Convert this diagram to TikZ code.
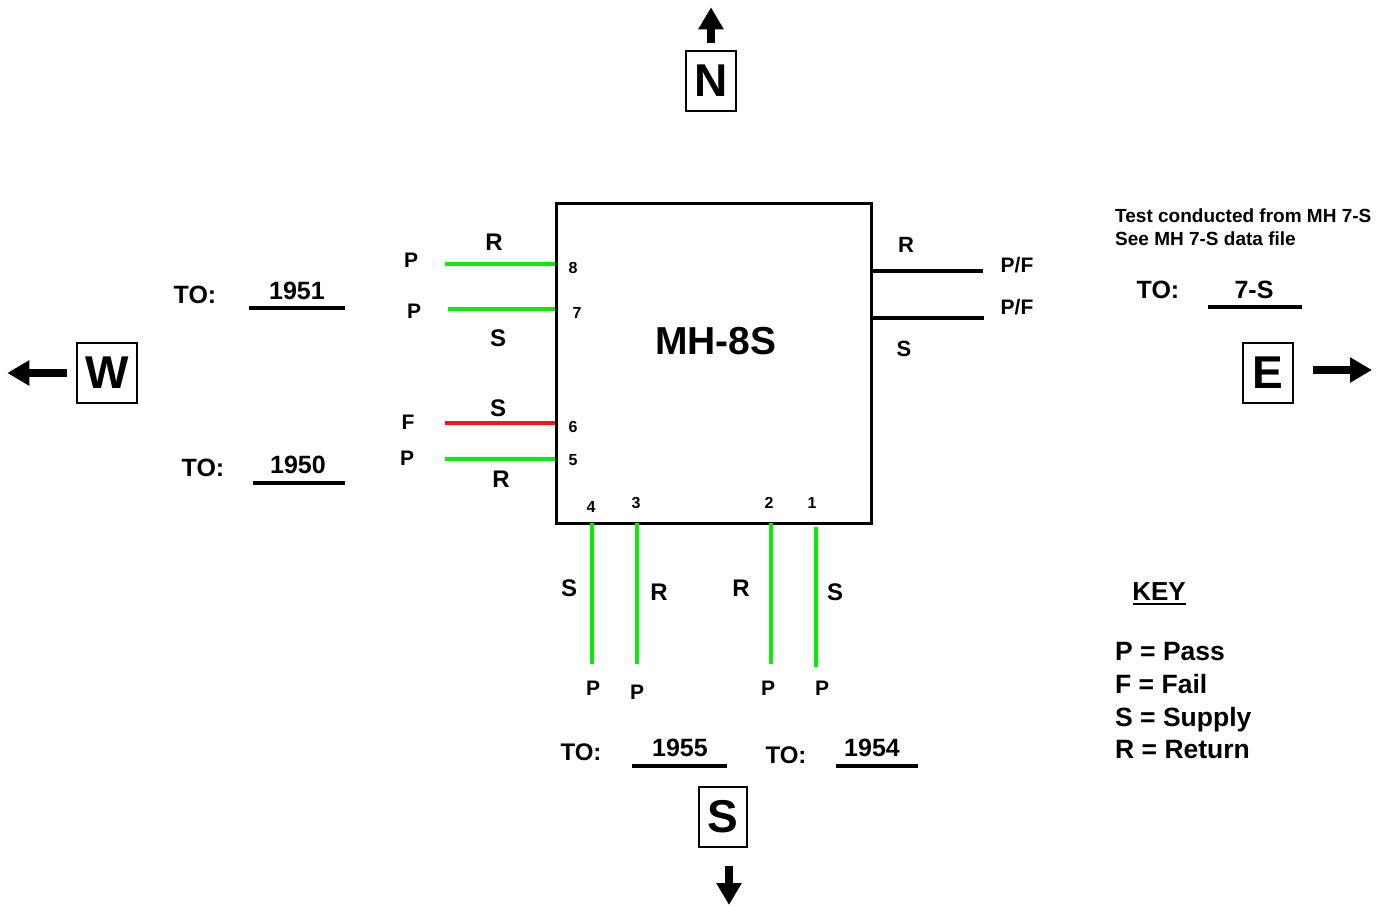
\documentclass[tikz,border=0pt]{standalone}
\usepackage{fontspec}
\setmainfont{Liberation Sans}
\usetikzlibrary{arrows.meta}
\definecolor{passgreen}{RGB}{10,235,10}
\definecolor{failred}{RGB}{250,20,20}

\tikzset{
  fs/.style={font=\bfseries\fontsize{#1}{#1}\selectfont, inner sep=0pt},
  compass/.style={draw, line width=1.4pt, fs=46, minimum width=50pt, minimum height=60pt},
  pass/.style={draw=passgreen, line width=4.5pt},
  fail/.style={draw=failred, line width=4.5pt},
  stub/.style={draw=black, line width=4pt},
  uline/.style={line width=3.5pt},
  heading/.style={line width=8pt, -{Triangle[length=22pt,width=24pt]}}
}

\begin{document}
\begin{tikzpicture}[x=1pt,y=-1pt]
			\useasboundingbox (0,0) rectangle (1382,907);
			% manhole
			\node[draw, line width=3pt, minimum width=315pt, minimum height=320pt] (mh) at (713.5,363) {};
			\node[fs=39] (title) at (716,341) {MH-8S};
			% west pipes
			\foreach \n/\y/\s/\l in {8/264/pass/110,7/309/pass/107,6/423/fail/110,5/459/pass/110} {
				\coordinate (w\n) at (mh.west |- 0,\y);
				\draw[\s] (w\n) -- ++(-\l,0);
			}
			\node[fs=16] (n8) at (573,268) {8};
			\node[fs=16] (n7) at (577,313) {7};
			\node[fs=16] (n6) at (573,427) {6};
			\node[fs=16] (n5) at (573,460) {5};
			\node[fs=21] (w8p) at (411,260) {P};
			\node[fs=24] (w8r) at (494,242) {R};
			\node[fs=21] (w7p) at (414,311) {P};
			\node[fs=24] (w7s) at (498,338) {S};
			\node[fs=24] (w6s) at (498,408) {S};
			\node[fs=21] (w6f) at (408,422) {F};
			\node[fs=21] (w5p) at (407,458) {P};
			\node[fs=24] (w5r) at (501,479) {R};
			\node[fs=25] (to1) at (195,295) {TO:};
			\node[fs=25] (mh1951) at (297,291) {1951};
			\draw[uline] (249,308) -- (345,308);
			\node[fs=25] (to0) at (203,468) {TO:};
			\node[fs=25] (mh1950) at (298,465) {1950};
			\draw[uline] (253,483) -- (345,483);
			% east pipes
			\coordinate (e1) at (mh.east |- 0,271);
			\coordinate (e2) at (873,318);
			\draw[stub] (e1) -- ++(110,0);
			\draw[stub] (e2) -- ++(111,0);
			\node[fs=22] (er) at (906,245) {R};
			\node[fs=21] (epf1) at (1017,265) {P/F};
			\node[fs=21] (epf2) at (1017,307) {P/F};
			\node[fs=22] (es) at (904,349) {S};
			\node[fs=19, anchor=base west] (note1) at (1115,222) {Test conducted from MH 7-S};
			\node[fs=19, anchor=base west] (note2) at (1115,245) {See MH 7-S data file};
			\node[fs=25] (toe) at (1158,290) {TO:};
			\node[fs=25] (mh7s) at (1254,290) {7-S};
			\draw[uline] (1208,307) -- (1302,307);
			% south pipes
			\foreach \n/\x in {4/592,3/637,2/771} {
				\coordinate (s\n) at (\x,523);
				\draw[pass] (s\n) -- (\x,664);
			}
			\coordinate (s1) at (816,527);
			\draw[pass] (s1) -- (816,667);
			\node[fs=16] (n4) at (591,507) {4};
			\node[fs=16] (n3) at (636,503) {3};
			\node[fs=16] (n2) at (769,503) {2};
			\node[fs=16] (n1) at (812,503) {1};
			\node[fs=24] (s4s) at (569,588) {S};
			\node[fs=24] (s3r) at (659,592) {R};
			\node[fs=24] (s2r) at (741,588) {R};
			\node[fs=24] (s1s) at (835,592) {S};
			\node[fs=21] (s4p) at (593,688) {P};
			\node[fs=21] (s3p) at (637,692) {P};
			\node[fs=21] (s2p) at (768,688) {P};
			\node[fs=21] (s1p) at (822,688) {P};
			\node[fs=24] (tos5) at (581,752) {TO:};
			\node[fs=25] (mh1955) at (680,748) {1955};
			\draw[uline] (632,766) -- (727,766);
			\node[fs=24] (tos4) at (786,755) {TO:};
			\node[fs=25] (mh1954) at (872,748) {1954};
			\draw[uline] (836,766) -- (918,766);
			% compass
			\node[compass] (north) at (711,81) {N};
			\node[compass, minimum width=48pt] (south) at (723,817) {S};
			\node[compass, minimum width=60pt] (west) at (107,373) {W};
			\node[compass] (east) at (1268,373) {E};
			\draw[heading] (north.north) ++(0,-7) -- ++(0,-36);
			\draw[heading] (729,866) -- (729,905);
			\draw[heading] (west.west) ++(-9,0) -- ++(-60,0);
			\draw[heading] (1313,370) -- (1372,370);
			% key
			\node[fs=26] (key) at (1159,592) {KEY};
			\draw[line width=2.5pt] (1133,604) -- (1186,604);
			\node[fs=26.5, anchor=base west] (kp) at (1115,660) {P = Pass};
			\node[fs=26.5, anchor=base west] (kf) at (1115,693) {F = Fail};
			\node[fs=26.5, anchor=base west] (ks) at (1115,726) {S = Supply};
			\node[fs=26.5, anchor=base west] (kr) at (1115,758) {R = Return};
\end{tikzpicture}
\end{document}
